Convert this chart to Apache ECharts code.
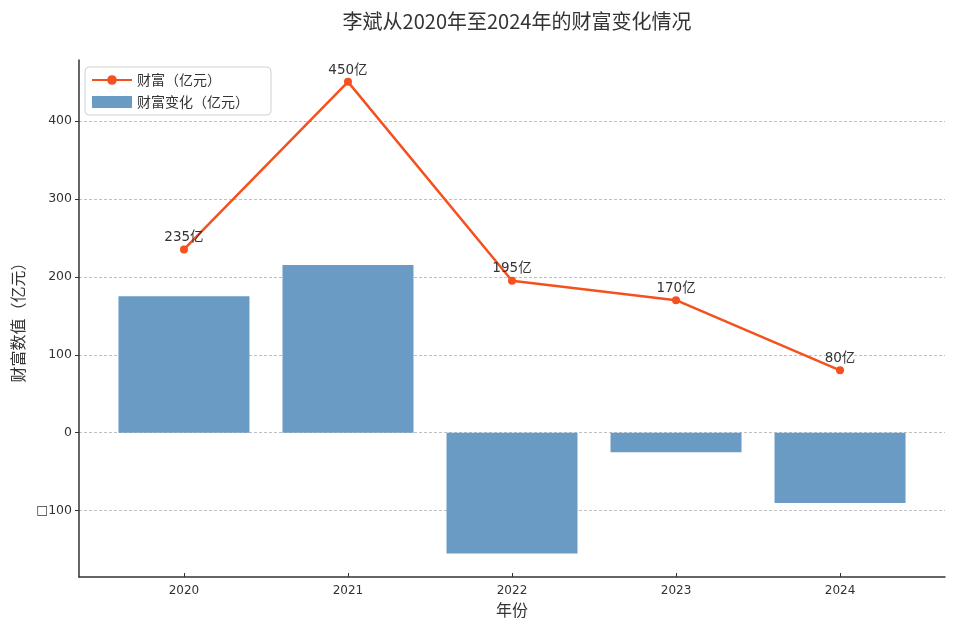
<!DOCTYPE html>
<html><head><meta charset="utf-8">
<script src="https://cdn.jsdelivr.net/npm/echarts@6/dist/echarts.min.js"></script>
<style>html,body{margin:0;padding:0;background:#fff}#c{width:960px;height:631px}</style>
</head><body><div id="c"></div>
<script>
const years = ['2020', '2021', '2022', '2023', '2024'];
const wealth = [235, 450, 195, 170, 80];
const wealthChange = [175, 215, -155, -25, -90];
const yTicks = [-100, 0, 100, 200, 300, 400];

const FONT = '"Noto Sans CJK SC", "DejaVu Sans", sans-serif';
const NUMFONT = '"DejaVu Sans", "Noto Sans CJK SC", sans-serif';
const chart = echarts.init(document.getElementById('c'));
const idx = years.map((_, i) => i);
chart.setOption({
  animation: false,
  textStyle: { fontFamily: FONT },
  title: {
    text: '李斌从2020年至2024年的财富变化情况',
    left: 512, top: 6, textAlign: 'center',
    textStyle: { fontSize: 20, fontWeight: 'normal', color: '#333', fontFamily: FONT }
  },
  legend: {
    left: 85, top: 67, orient: 'vertical',
    borderColor: '#d0d0d0', borderWidth: 1, borderRadius: 4,
    padding: [6, 22, 6, 6], itemGap: 8, itemWidth: 40, itemHeight: 12,
    textStyle: { fontSize: 14, color: '#333', fontFamily: FONT },
    data: [
      { name: '财富（亿元）' },
      { name: '财富变化（亿元）', icon: 'rect' }
    ]
  },
  grid: { left: 79, right: 15, top: 60, bottom: 54 },
  xAxis: {
    type: 'value', min: -0.64, max: 4.64,
    name: '年份', nameLocation: 'middle', nameGap: 23,
    nameTextStyle: { fontSize: 16, color: '#333', fontFamily: FONT },
    axisLine: { show: true, onZero: false, lineStyle: { color: '#333', width: 1.5 } },
    axisTick: { show: true, inside: true, length: 4, customValues: idx, lineStyle: { color: '#333' } },
    axisLabel: { customValues: idx, formatter: v => years[Math.round(v)], fontSize: 12, color: '#333', margin: 8, fontFamily: NUMFONT },
    splitLine: { show: false }
  },
  yAxis: {
    type: 'value', min: -185, max: 478,
    name: '财富数值（亿元）', nameLocation: 'middle', nameGap: 50,
    nameTextStyle: { fontSize: 16, color: '#333', fontFamily: FONT },
    axisLine: { show: true, onZero: false, lineStyle: { color: '#333', width: 1.5 } },
    axisTick: { show: true, length: 4, customValues: yTicks, lineStyle: { color: '#333' } },
    axisLabel: { customValues: yTicks, fontSize: 12.5, color: '#333', margin: 7, fontFamily: NUMFONT,
      formatter: v => v < 0 ? '□' + Math.abs(v) : String(v) },
    splitLine: { show: true, showMinLine: true, showMaxLine: true, lineStyle: { color: '#b0b0b0', type: [3, 2], width: 0.8 } }
  },
  series: [
    {
      name: '财富变化（亿元）', type: 'bar', barWidth: 131,
      itemStyle: { color: '#6a9bc4' },
      data: wealthChange.map((v, i) => [i, v]), z: 1
    },
    {
      name: '财富（亿元）', type: 'line', symbol: 'circle', symbolSize: 8,
      lineStyle: { color: '#f4511e', width: 2.5 }, itemStyle: { color: '#f4511e' },
      label: { show: true, position: 'top', distance: 1, formatter: p => p.value[1] + '亿', fontSize: 13.5, color: '#333', fontFamily: NUMFONT },
      data: wealth.map((v, i) => [i, v]), z: 3
    }
  ]
});
</script></body></html>
